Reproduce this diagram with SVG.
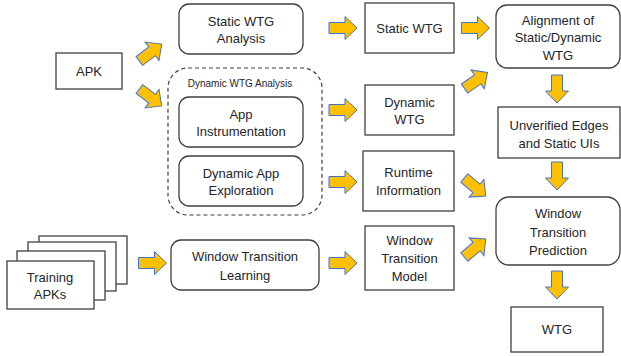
<svg xmlns="http://www.w3.org/2000/svg" width="621" height="356" viewBox="0 0 621 356">
<defs>
<style>
.box{fill:#fff;stroke:#404040;stroke-width:1.3}
.t{font-family:"Liberation Sans",Arial,sans-serif;font-size:13px;fill:#262626;text-anchor:middle}
.s{font-family:"Liberation Sans",Arial,sans-serif;font-size:10px;fill:#262626;text-anchor:middle}
.dash{fill:none;stroke:#404040;stroke-width:1.2;stroke-dasharray:4 3}
.arr{fill:#FFC000;stroke:#4472C4;stroke-width:1}
</style>
<path id="a" class="arr" d="M-14,-5.5 H2 V-11.5 L14,0 L2,11.5 V5.5 H-14 Z"/>
</defs>
<rect width="621" height="356" fill="#fff"/>
<g id="connectors">
<use href="#a" transform="translate(150.5,52.5) rotate(-37)"/>
<use href="#a" transform="translate(150.5,97.5) rotate(37)"/>
<use href="#a" transform="translate(343,28)"/>
<use href="#a" transform="translate(475.5,28)"/>
<use href="#a" transform="translate(476,80.5) rotate(-35)"/>
<use href="#a" transform="translate(343,110)"/>
<use href="#a" transform="translate(343,182)"/>
<use href="#a" transform="translate(475,187) rotate(40)"/>
<use href="#a" transform="translate(475,248) rotate(-40)"/>
<use href="#a" transform="translate(343,263)"/>
<use href="#a" transform="translate(152.5,263)"/>
<use href="#a" transform="translate(557,89) rotate(90)"/>
<use href="#a" transform="translate(557,176) rotate(90)"/>
<use href="#a" transform="translate(557,285) rotate(90)"/>
</g>
<g id="apk"><rect class="box" x="56" y="53" width="66" height="36"/><text class="t" x="89" y="76">APK</text></g>
<g id="static-analysis"><rect class="box" x="179" y="4" width="124" height="50" rx="10"/><text class="t" x="241" y="26">Static WTG</text><text class="t" x="241" y="43">Analysis</text></g>
<g id="dynamic-analysis"><rect class="dash" x="168" y="68" width="154" height="147" rx="20"/><text class="s" x="240" y="87">Dynamic WTG Analysis</text></g>
<g id="instrumentation"><rect class="box" x="179" y="97" width="124" height="50" rx="10"/><text class="t" x="241" y="119">App</text><text class="t" x="241" y="136">Instrumentation</text></g>
<g id="exploration"><rect class="box" x="179" y="156" width="124" height="50" rx="10"/><text class="t" x="241" y="178">Dynamic App</text><text class="t" x="241" y="195">Exploration</text></g>
<g id="static-wtg"><rect class="box" x="365" y="3" width="89" height="50"/><text class="t" x="409.5" y="33">Static WTG</text></g>
<g id="dynamic-wtg"><rect class="box" x="365" y="85" width="89" height="50"/><text class="t" x="409.5" y="107">Dynamic</text><text class="t" x="409.5" y="124">WTG</text></g>
<g id="runtime"><rect class="box" x="363" y="151" width="91" height="60"/><text class="t" x="408.5" y="177">Runtime</text><text class="t" x="408.5" y="195">Information</text></g>
<g id="model"><rect class="box" x="365" y="226" width="89" height="64"/><text class="t" x="409.5" y="245">Window</text><text class="t" x="409.5" y="263">Transition</text><text class="t" x="409.5" y="281">Model</text></g>
<g id="alignment"><rect class="box" x="496" y="5" width="124" height="63" rx="11"/><text class="t" x="558" y="25">Alignment of</text><text class="t" x="558" y="42">Static/Dynamic</text><text class="t" x="558" y="60">WTG</text></g>
<g id="unverified"><rect class="box" x="498" y="107" width="122" height="51"/><text class="t" x="559" y="130">Unverified Edges</text><text class="t" x="559" y="148">and Static UIs</text></g>
<g id="prediction"><rect class="box" x="496" y="197" width="124" height="68" rx="13"/><text class="t" x="558" y="218">Window</text><text class="t" x="558" y="237">Transition</text><text class="t" x="558" y="255">Prediction</text></g>
<g id="wtg"><rect class="box" x="511" y="307" width="92" height="45"/><text class="t" x="557" y="334">WTG</text></g>
<g id="training"><rect class="box" x="39" y="236" width="88" height="48"/><rect class="box" x="28" y="242" width="88" height="49"/><rect class="box" x="17" y="251" width="88" height="49"/><rect class="box" x="7" y="261" width="87" height="48"/><text class="t" x="50" y="282">Training</text><text class="t" x="50" y="299">APKs</text></g>
<g id="learning"><rect class="box" x="171" y="240" width="148" height="50" rx="10"/><text class="t" x="245" y="261">Window Transition</text><text class="t" x="245" y="280">Learning</text></g>
</svg>
